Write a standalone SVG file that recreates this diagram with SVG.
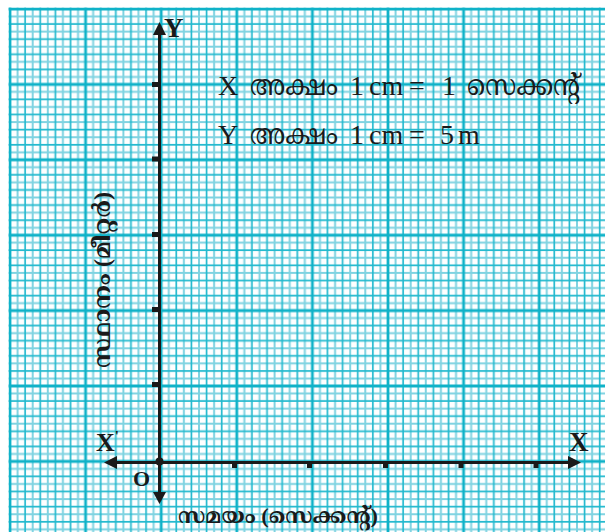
<svg xmlns="http://www.w3.org/2000/svg" width="605" height="532" viewBox="0 0 605 532">
<style>
.lbl{font-family:"Liberation Serif","Noto Serif Malayalam","Noto Sans Malayalam",serif;fill:#1a1a1a}
.b{font-weight:bold}
.ml{font-family:"Liberation Serif","Noto Serif Malayalam","Noto Sans Malayalam","Noto Sans",serif;fill:#1a1a1a}
.ax{stroke:#1a1a1a;stroke-width:3;fill:none}
.hd{fill:#1a1a1a}
</style>
<defs>
<pattern id="grid" patternUnits="userSpaceOnUse" x="10" y="9" width="75.6" height="75.4">
<g stroke="#7fd3e1" stroke-width="2">
<path d="M7.56 0V75.4M22.68 0V75.4M37.8 0V75.4M52.92 0V75.4M68.04 0V75.4"/>
<path d="M0 7.54H75.6M0 22.62H75.6M0 37.7H75.6M0 52.78H75.6M0 67.86H75.6"/>
</g>
<g stroke="#22b9ce" stroke-width="1.7">
<path d="M15.12 0V75.4M30.24 0V75.4M45.36 0V75.4M60.48 0V75.4"/>
<path d="M0 15.08H75.6M0 30.16H75.6M0 45.24H75.6M0 60.32H75.6"/>
</g>
<g stroke="#0fb2c8" stroke-width="2.8">
<path d="M0 0V75.4M75.6 0V75.4M0 0H75.6M0 75.4H75.6"/>
</g>
</pattern>
</defs>
<rect width="605" height="532" fill="#ffffff"/>
<rect id="paper" x="8.5" y="7.5" width="600" height="530" fill="url(#grid)"/>
<g id="connectors">
<line class="ax" x1="159.5" y1="33" x2="159.5" y2="494"/>
<polygon class="hd" points="159.5,22 153,35 166,35"/>
<polygon class="hd" points="159.5,504 153,492 166,492"/>
<line class="ax" x1="115" y1="462.5" x2="570" y2="462.5"/>
<polygon class="hd" points="104,462.5 117,456 117,469"/>
<polygon class="hd" points="581,462.5 568,456 568,469"/>
</g>
<g id="origin"><circle cx="159.5" cy="461.5" r="4" class="hd"/></g>
<g id="yticks" class="hd">
<rect x="152" y="82" width="7.5" height="5"/>
<rect x="152" y="156.5" width="7.5" height="5"/>
<rect x="152" y="232" width="7.5" height="5"/>
<rect x="152" y="307" width="7.5" height="5"/>
<rect x="152" y="382" width="7.5" height="5"/>
</g>
<g id="xticks" class="hd">
<rect x="232" y="462" width="5" height="6"/>
<rect x="307" y="462" width="5" height="6"/>
<rect x="383" y="462" width="5" height="6"/>
<rect x="458.5" y="462" width="5" height="6"/>
<rect x="533.5" y="462" width="5" height="6"/>
</g>
<g id="axis-labels">
<text class="lbl b" x="164" y="37" font-size="27">Y</text>
<text class="lbl b" x="96" y="451" font-size="26">X<tspan font-size="15" dy="-10">'</tspan></text>
<text class="lbl b" x="133" y="486" font-size="22">O</text>
<text class="lbl b" x="569" y="451" font-size="27">X</text>
</g>
<g id="scale">
<text class="ml" y="95" font-size="28"><tspan x="218">X</tspan><tspan x="250" textLength="88" lengthAdjust="spacingAndGlyphs">അക്ഷം</tspan><tspan x="350">1</tspan><tspan x="369">cm</tspan><tspan x="409">=</tspan><tspan x="442">1</tspan><tspan x="467" textLength="113" lengthAdjust="spacingAndGlyphs">സെക്കന്റ്</tspan></text>
<text class="ml" y="144" font-size="28"><tspan x="218">Y</tspan><tspan x="250" textLength="88" lengthAdjust="spacingAndGlyphs">അക്ഷം</tspan><tspan x="350">1</tspan><tspan x="369">cm</tspan><tspan x="409">=</tspan><tspan x="440">5</tspan><tspan x="458">m</tspan></text>
</g>
<g id="x-title"><text class="ml b" x="178" y="523" font-size="22" textLength="200" lengthAdjust="spacingAndGlyphs">സമയം (സെക്കന്റ്)</text></g>
<g id="y-title"><text class="ml b" transform="translate(110,368) rotate(-90)" font-size="23" textLength="176" lengthAdjust="spacingAndGlyphs">സ്ഥാനം (മീറ്റർ)</text></g>
</svg>
